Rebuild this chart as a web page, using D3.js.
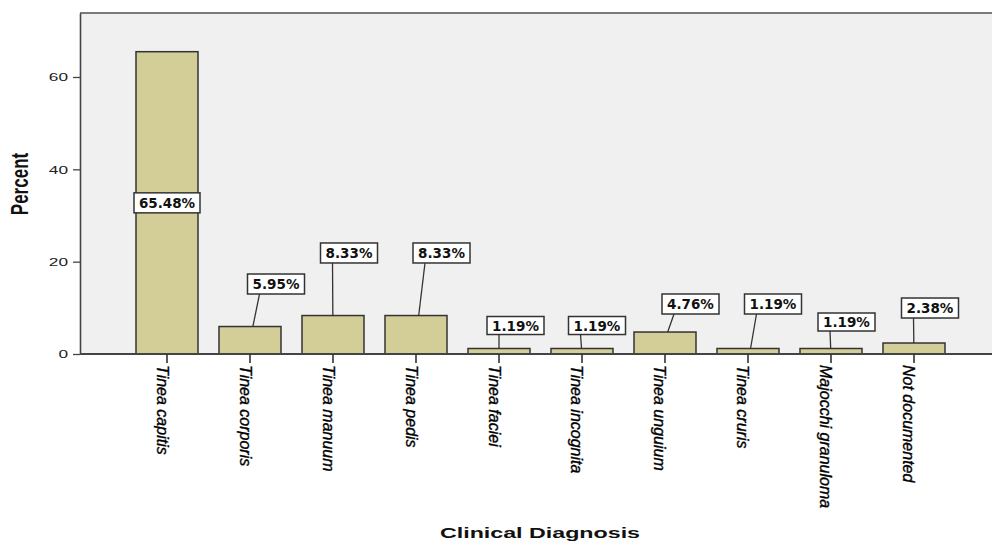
<!DOCTYPE html>
<html>
<head>
<meta charset="utf-8">
<script src="https://cdn.jsdelivr.net/npm/d3@7"></script>
<style>
  html, body { margin: 0; padding: 0; background: #ffffff; }
  svg { display: block; }
</style>
</head>
<body>
<svg id="chart" width="992" height="541"></svg>
<script>
// ---- data ----
const categories = ["Tinea capitis", "Tinea corporis", "Tinea manuum", "Tinea pedis", "Tinea faciei",
                    "Tinea incognita", "Tinea unguium", "Tinea cruris", "Majocchi granuloma", "Not documented"];
const percents = [65.48, 5.95, 8.33, 8.33, 1.19, 1.19, 4.76, 1.19, 1.19, 2.38];
const valueLabels = ["65.48%", "5.95%", "8.33%", "8.33%", "1.19%", "1.19%", "4.76%", "1.19%", "1.19%", "2.38%"];
const yTicks = [0, 20, 40, 60];
const xTitle = "Clinical Diagnosis";
const yTitle = "Percent";

// label callout placement (layout only): box centre in value units and x shift in px
const labelCentreValue = [32.74, 15.16, 21.88, 21.88, 6.17, 6.17, 10.83, 10.83, 6.93, 9.96];
const labelShift = [0, 26, 16, 25.5, 16.5, 15, 25.5, 25, 15.5, 16];

// ---- layout ----
const plot = { left: 80, top: 13, right: 992, bottom: 354 };
const svg = d3.select("#chart");

const x = d3.scaleBand().domain(categories).range([94.5, 986.5]).paddingInner(0.253).paddingOuter(0.5);
const y = d3.scaleLinear().domain([0, 73.86]).range([plot.bottom, plot.top]);

// plot background
svg.append("rect").attr("x", plot.left).attr("y", plot.top)
  .attr("width", plot.right - plot.left).attr("height", plot.bottom - plot.top)
  .attr("fill", "#f0f0f0");
// frame top
svg.append("line").attr("x1", plot.left).attr("x2", plot.right).attr("y1", plot.top).attr("y2", plot.top)
  .attr("stroke", "#7a7a7a").attr("stroke-width", 2);

// bars
svg.append("g").selectAll("rect").data(percents).join("rect")
  .attr("x", (d, i) => x(categories[i]))
  .attr("y", d => y(d))
  .attr("width", x.bandwidth())
  .attr("height", d => y(0) - y(d))
  .attr("fill", "#d3ce97")
  .attr("stroke", "#333")
  .attr("stroke-width", 1.5);

// y axis
const yAxis = d3.axisLeft(y).tickValues(yTicks).tickSizeInner(7).tickSizeOuter(0).tickPadding(5).tickFormat(d3.format("d"));
const gy = svg.append("g").attr("transform", `translate(${plot.left},0)`).call(yAxis);
gy.select(".domain").attr("stroke", "#444").attr("stroke-width", 1.6);
gy.selectAll(".tick line").attr("stroke", "#444").attr("stroke-width", 1.3);
gy.selectAll(".tick text").each(function () {
  const t = d3.select(this);
  const xx = +t.attr("x");
  t.attr("x", null).attr("dy", null)
   .attr("transform", `translate(${xx},0) scale(1.5,1)`)
   .attr("dominant-baseline", "central")
   .attr("font-family", "'Liberation Sans', Arial, sans-serif")
   .attr("font-size", 11.5).attr("fill", "#222");
});

// x axis
const xAxis = d3.axisBottom(x).tickSizeInner(9).tickSizeOuter(0).tickFormat("");
const gx = svg.append("g").attr("transform", `translate(0,${plot.bottom})`).call(xAxis);
gx.select(".domain").attr("d", `M${plot.left},0H${plot.right}`).attr("stroke", "#444").attr("stroke-width", 1.8);
gx.selectAll(".tick line").attr("stroke", "#333").attr("stroke-width", 1.6);

// category labels, rotated to read downward
svg.append("g").selectAll("text").data(categories).join("text")
  .attr("transform", d => `translate(${x(d) + x.bandwidth() / 2},${plot.bottom + 11}) rotate(90)`)
  .attr("x", 0).attr("y", 10.5)
  .attr("font-family", "'Liberation Sans', Arial, sans-serif")
  .attr("font-style", "italic")
  .attr("font-size", 16)
  .attr("fill", "#000")
  .attr("stroke", "#000").attr("stroke-width", 0.35)
  .text(d => d);

// value callouts
const lg = svg.append("g");
percents.forEach((v, i) => {
  const cx = x(categories[i]) + x.bandwidth() / 2;
  const bx = cx + labelShift[i];
  const by = y(labelCentreValue[i]);
  const bw = i === 0 ? 66 : 57;
  const bh = (v < 2 && labelCentreValue[i] < 8) ? 18 : 20;
  const left = bx - bw / 2;
  if (i !== 0) {
    const topX = left + 12;
    const endX = cx + 0.3 * (topX - cx);
    lg.append("line").attr("x1", topX).attr("y1", by + bh / 2).attr("x2", endX).attr("y2", y(v))
      .attr("stroke", "#333").attr("stroke-width", 1.3);
  }
  lg.append("rect").attr("x", left).attr("y", by - bh / 2).attr("width", bw).attr("height", bh)
    .attr("fill", "#ffffff").attr("stroke", "#333").attr("stroke-width", 1.5);
  lg.append("text").attr("x", bx).attr("y", by).attr("text-anchor", "middle")
    .attr("dominant-baseline", "central")
    .attr("font-family", "'DejaVu Sans', Verdana, sans-serif")
    .attr("font-weight", "bold").attr("font-size", 13.5).attr("fill", "#111")
    .text(valueLabels[i]);
});

// axis titles
svg.append("text")
  .attr("transform", `translate(540,538) scale(1.55,1)`)
  .attr("text-anchor", "middle")
  .attr("font-family", "'Liberation Sans', Arial, sans-serif")
  .attr("font-weight", "bold").attr("font-size", 15).attr("fill", "#111")
  .text(xTitle);

svg.append("text")
  .attr("transform", `translate(28,184) scale(1.4,1) rotate(-90)`)
  .attr("text-anchor", "middle")
  .attr("font-family", "'Liberation Sans', Arial, sans-serif")
  .attr("font-weight", "bold").attr("font-size", 17).attr("fill", "#111")
  .text(yTitle);
</script>
</body>
</html>
